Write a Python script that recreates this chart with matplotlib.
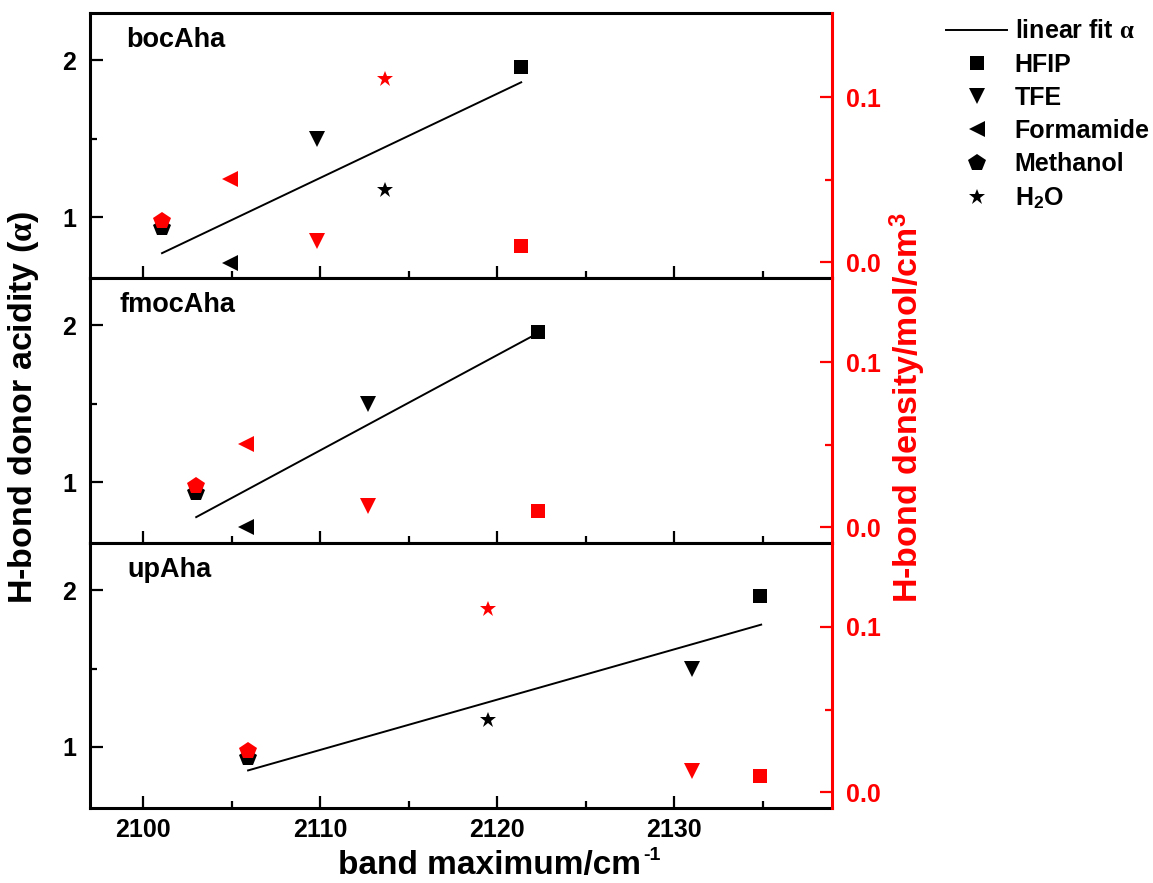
import matplotlib
matplotlib.use('Agg')
import matplotlib.pyplot as plt
from matplotlib.lines import Line2D
from matplotlib.ticker import MultipleLocator, FixedLocator

plt.rcParams['font.family'] = ['Liberation Sans', 'DejaVu Sans']
plt.rcParams['font.weight'] = 'bold'
plt.rcParams['mathtext.fontset'] = 'custom'
plt.rcParams['mathtext.rm'] = 'Liberation Sans:bold'
plt.rcParams['mathtext.bf'] = 'Liberation Sans:bold'
plt.rcParams['mathtext.it'] = 'Liberation Serif'

# ---------------- data ----------------
panels = ['bocAha', 'fmocAha', 'upAha']
solvents = ['HFIP', 'TFE', 'Formamide', 'Methanol', 'H$_2$O']
markers = ['s', 'v', '<', 'p', '*']
marker_sizes = [9.4, 12, 12, 13, 12]

alpha = [1.96, 1.50, 0.71, 0.93, 1.17]            # H-bond donor acidity
density = [0.0096, 0.0127, 0.0503, 0.0250, 0.111]  # H-bond density mol/cm3

band_boc = [2121.35, 2109.8, 2104.9, 2101.07, 2113.66]
band_fmoc = [2122.29, 2112.72, 2105.82, 2103.0, None]
band_up = [2134.84, 2130.99, None, 2105.93, 2119.47]
bands = [band_boc, band_fmoc, band_up]

fit_x_boc = [2101.07, 2121.35]
fit_a_boc = [0.77, 1.86]
fit_x_fmoc = [2103.0, 2122.3]
fit_a_fmoc = [0.776, 1.95]
fit_x_up = [2105.93, 2134.9]
fit_a_up = [0.85, 1.78]
fits_x = [fit_x_boc, fit_x_fmoc, fit_x_up]
fits_a = [fit_a_boc, fit_a_fmoc, fit_a_up]

x_ticks = [2100, 2110, 2120, 2130]
# --------------------------------------

RED = '#ff0000'
W, H = 1153, 883
fig = plt.figure(figsize=(W / 100, H / 100), dpi=100)

left, width = 0.078, 0.6436
heights = 0.3
bottoms = [0.6849, 0.3849, 0.0849]
title_x = [0.0485, 0.040, 0.0505]

for i, name in enumerate(panels):
    ax = fig.add_axes([left, bottoms[i], width, heights])
    ax2 = ax.twinx()
    ax.set_xlim(2097.0, 2138.9)
    ax.set_ylim(0.61, 2.30)
    ax2.set_ylim(-0.0097, 0.1508)

    ax.plot(fits_x[i], fits_a[i], color='k', lw=1.4, zorder=2)
    for j in range(len(solvents)):
        bx = bands[i][j]
        if bx is None:
            continue
        ax.plot([bx], [alpha[j]], ls='none', marker=markers[j],
                ms=marker_sizes[j], color='k', mew=0, zorder=3)
        ax2.plot([bx], [density[j]], ls='none', marker=markers[j],
                 ms=marker_sizes[j], color=RED, mew=0, zorder=3)

    ax.xaxis.set_major_locator(FixedLocator(x_ticks))
    ax.xaxis.set_minor_locator(MultipleLocator(5))
    ax.yaxis.set_major_locator(FixedLocator([1, 2]))
    ax.yaxis.set_minor_locator(FixedLocator([1.5]))
    ax2.yaxis.set_major_locator(FixedLocator([0.0, 0.1]))
    ax2.yaxis.set_minor_locator(FixedLocator([0.05]))
    ax2.set_yticklabels(['0.0', '0.1'])
    ax.set_yticklabels(['1', '2'])

    ax.tick_params(axis='both', which='major', direction='in', length=9,
                   width=1.6, labelsize=18, top=False, right=False)
    ax.tick_params(axis='both', which='minor', direction='in', length=5,
                   width=1.6, top=False, right=False)
    ax.tick_params(axis='y', pad=10)
    ax.tick_params(axis='x', pad=7, labelbottom=(i == 2))
    ax2.tick_params(axis='y', which='major', direction='in', length=9,
                    width=1.6, labelsize=18, colors=RED, pad=10)
    ax2.tick_params(axis='y', which='minor', direction='in', length=5,
                    width=1.6, colors=RED)

    for sp in ['left', 'top', 'bottom']:
        ax.spines[sp].set_linewidth(2.2)
        ax2.spines[sp].set_visible(False)
    ax.spines['right'].set_visible(False)
    ax2.spines['right'].set_color(RED)
    ax2.spines['right'].set_linewidth(2.2)

    ax.text(title_x[i], 0.90, name, transform=ax.transAxes, fontsize=19.5,
            fontweight='bold', va='center', ha='left')

fig.text(0.0208, 0.5385, r'H-bond donor acidity ($\alpha$)', rotation=90,
         ha='center', va='center', fontsize=24.5, fontweight='bold')
fig.text(0.7875, 0.5385, r'H-bond density/mol/cm$^3$', rotation=90,
         ha='center', va='center', fontsize=24.5, fontweight='bold', color=RED)

xl = fig.text(338 / W, 1 - 874 / H, 'band maximum/cm', ha='left', va='baseline',
              fontsize=24, fontweight='bold')
fig.canvas.draw()
bb = xl.get_window_extent()
fig.text(bb.x1 / W + 0.002, (bb.y1 + 3) / H, '-1', ha='left', va='top',
         fontsize=14, fontweight='bold')

handles = [Line2D([], [], color='k', lw=1.4)]
labels = [r'linear fit $\alpha$']
for m, s, lab in zip(markers, marker_sizes, solvents):
    handles.append(Line2D([], [], ls='none', marker=m, ms=s, color='k', mew=0))
    labels.append(lab)
fig.legend(handles, labels, loc='upper left', bbox_to_anchor=(0.8205, 0.978),
           frameon=False, fontsize=18, handlelength=2.45, handletextpad=0.3,
           labelspacing=0.37, borderpad=0, borderaxespad=0)

fig.savefig('out.png', dpi=100)
